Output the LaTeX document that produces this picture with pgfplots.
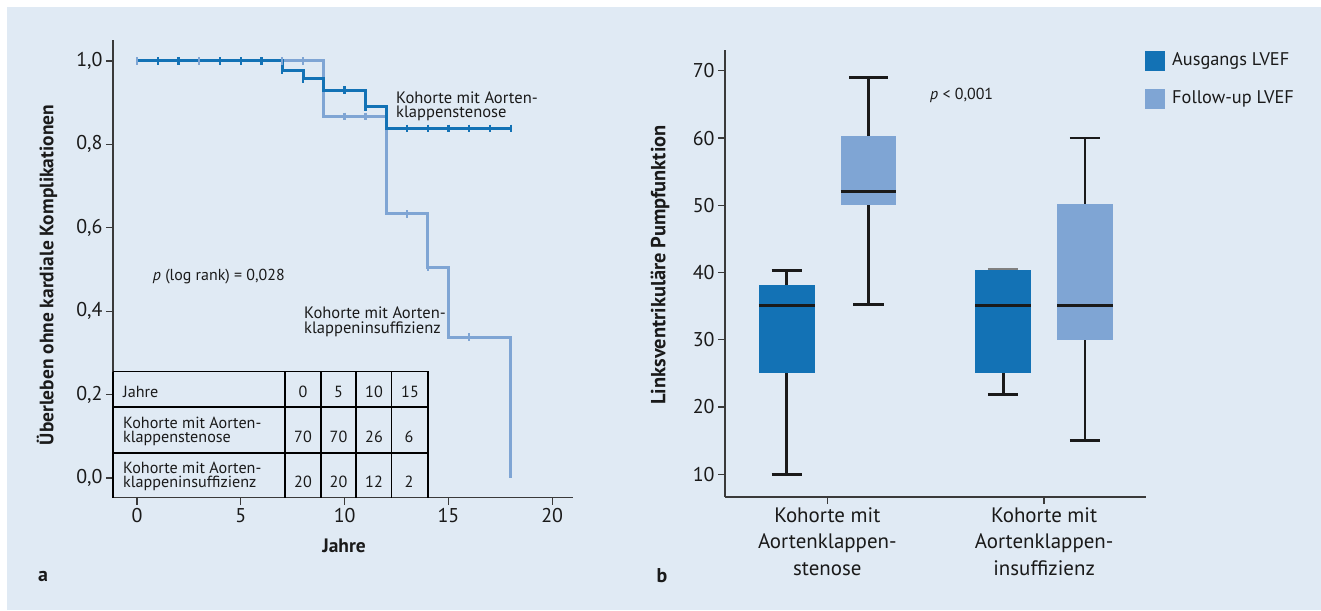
\documentclass[border=0pt]{standalone}
\usepackage{fontspec}
\setmainfont{PT Sans}
\usepackage{pgfplots}
\pgfplotsset{compat=1.18}
\definecolor{bgblue}{HTML}{E0EAF4}
\definecolor{dblue}{HTML}{1372B5}
\definecolor{lblue}{HTML}{7FA5D4}
\definecolor{axgrey}{HTML}{3A3A3A}
\definecolor{txt}{HTML}{1A1A1A}
\newcommand\fs[2]{\fontsize{#1}{#2}\selectfont}
\begin{document}
\begin{tikzpicture}
\path[use as bounding box] (0,0) rectangle (1321bp,611bp);
\fill[white] (0,0) rectangle (1321bp,611bp);
\fill[bgblue] (7bp,1bp) rectangle (1321bp,604bp);

% ---------------- left: Kaplan-Meier ----------------
\begin{axis}[
  at={(113bp,113.3bp)}, anchor=south west, scale only axis,
  width=460bp, height=457.7bp,
  xmin=-1.157, xmax=21.0, ymin=-0.047, ymax=1.05,
  axis x line=bottom, axis y line=left,
  axis line style={-, axgrey, line width=1.4bp},
  xtick={0,5,10,15,20}, ytick={0,0.2,0.4,0.6,0.8,1.0},
  tick align=outside, major tick length=7bp,
  tick style={axgrey, line width=1.3bp},
  /pgf/number format/assume math mode=true,
  ticklabel style={font=\fs{20}{24}, text=txt},
  yticklabel style={/pgf/number format/.cd, fixed, fixed zerofill, precision=1, use comma},
  xticklabel style={/pgf/number format/.cd, fixed, precision=0},
  clip=false,
]
% Insuffizienz (light)
\addplot[const plot mark left, lblue, line width=3bp] coordinates {
  (0,1) (9,0.867) (12,0.633) (14,0.505) (15,0.338) (18,0)};
% Stenose (dark)
\addplot[const plot mark left, dblue, line width=3bp] coordinates {
  (0,1) (7,0.977) (8,0.957) (9,0.930) (11,0.890) (12,0.838) (18,0.838)};
% censor marks stenose
\addplot[only marks, mark=|, mark size=3.8bp, dblue, mark options={line width=2.3bp}] coordinates {
  (1,1) (2,1) (4,1) (5,1) (6,1) (7,0.977) (8,0.957) (10,0.930) (11,0.890)
  (13,0.838) (14,0.838) (15,0.838) (16,0.838) (17,0.838) (18,0.838)};
% censor marks insuffizienz
\addplot[only marks, mark=|, mark size=3.8bp, lblue, mark options={line width=2.3bp}] coordinates {
  (0,1) (3,1) (7,1) (8,1) (10,0.867) (11,0.867) (13,0.633) (14,0.505) (16,0.338)};
\end{axis}

% ---------------- right: boxplots ----------------
\begin{axis}[
  at={(725bp,114bp)}, anchor=south west, scale only axis,
  width=421bp, height=447bp,
  xmin=0.528, xmax=2.47, ymin=6.61, ymax=73.1,
  axis x line=bottom, axis y line=left,
  axis line style={-, axgrey, line width=1.4bp},
  xtick={1,2}, ytick={10,20,30,40,50,60,70},
  xticklabels={{Kohorte mit\\Aortenklappen-\\stenose},{Kohorte mit\\Aortenklappen-\\insuffizienz}},
  tick align=outside, major tick length=7bp,
  tick style={axgrey, line width=1.3bp},
  /pgf/number format/assume math mode=true,
  ticklabel style={font=\fs{20}{26}, text=txt},
  xticklabel style={align=center, font=\fs{21}{26.5}},
  clip=false,
  box/.style={fill=#1, draw=none},
  med/.style={draw=txt, line width=3bp},
  wh/.style={draw=txt, line width=2.8bp},
]
% --- Kohorte Stenose, Ausgangs LVEF (pos 0.813)
\addplot[wh] coordinates {(0.813,25) (0.813,10)};
\addplot[wh] coordinates {(0.743,10) (0.883,10)};
\addplot[wh] coordinates {(0.813,38.15) (0.813,40.3)};
\addplot[wh] coordinates {(0.743,40.3) (0.883,40.3)};
\addplot[box=dblue] coordinates {(0.684,25) (0.942,25) (0.942,38.15) (0.684,38.15)} -- cycle;
\addplot[med] coordinates {(0.684,35.1) (0.942,35.1)};
% --- Kohorte Stenose, Follow-up LVEF (pos 1.19)
\addplot[wh] coordinates {(1.19,50) (1.19,35.2)};
\addplot[wh] coordinates {(1.12,35.2) (1.26,35.2)};
\addplot[wh] coordinates {(1.19,60.3) (1.19,69)};
\addplot[wh] coordinates {(1.10,69) (1.28,69)};
\addplot[box=lblue] coordinates {(1.061,50) (1.319,50) (1.319,60.3) (1.061,60.3)} -- cycle;
\addplot[med] coordinates {(1.061,52.1) (1.319,52.1)};
% --- Kohorte Insuffizienz, Ausgangs LVEF (pos 1.811)
\addplot[wh] coordinates {(1.811,25) (1.811,21.9)};
\addplot[wh] coordinates {(1.741,21.9) (1.881,21.9)};
\addplot[draw=gray, line width=1.6bp] coordinates {(1.741,40.55) (1.881,40.55)};
\addplot[box=dblue] coordinates {(1.682,25) (1.940,25) (1.940,40.4) (1.682,40.4)} -- cycle;
\addplot[med] coordinates {(1.682,35.1) (1.940,35.1)};
% --- Kohorte Insuffizienz, Follow-up LVEF (pos 2.189)
\addplot[wh] coordinates {(2.189,30) (2.189,15)};
\addplot[wh] coordinates {(2.119,15) (2.259,15)};
\addplot[wh] coordinates {(2.189,50.2) (2.189,60)};
\addplot[wh] coordinates {(2.119,60) (2.259,60)};
\addplot[box=lblue] coordinates {(2.060,30) (2.318,30) (2.318,50.2) (2.060,50.2)} -- cycle;
\addplot[med] coordinates {(2.060,35.1) (2.318,35.1)};
\end{axis}

% ---------------- annotations (px coordinates, y downward) ----------------
\begin{scope}[x=1bp, y=-1bp, shift={(0bp,611bp)}, every node/.style={inner sep=0pt, text=txt}]
% KM labels
\node[anchor=base west, font=\fs{16.6}{16}] at (396,103.3) {Kohorte mit Aorten-};
\node[anchor=base west, font=\fs{16.6}{16}] at (396,117.6) {klappenstenose};
\node[anchor=base west, font=\fs{16}{16}] at (152.7,280.7) {\textit{p} (log rank) = 0,028};
\node[anchor=base west, font=\fs{16.6}{16}] at (304,319) {Kohorte mit Aorten-};
\node[anchor=base west, font=\fs{16.6}{16}] at (304,333.3) {klappeninsuffizienz};
% table
\draw[black, line width=1.3bp] (113,371.7) -- (428,371.7) -- (428,497.7);
\draw[black, line width=1.3bp] (113,407) -- (428,407);
\draw[black, line width=1.3bp] (113,453) -- (428,453);
\foreach \xx in {285,321,356,391.7} \draw[black, line width=1.3bp] (\xx,371.7) -- (\xx,497.7);
\draw[black, line width=1.3bp] (113,371.7) -- (113,497.7);
\begin{scope}[every node/.append style={font=\fs{16.2}{16}}]
\node[anchor=base west] at (123,397.7) {Jahre};
\node[anchor=base west] at (123,428.3) {Kohorte mit Aorten-};
\node[anchor=base west] at (123,442.7) {klappenstenose};
\node[anchor=base west] at (123,473.3) {Kohorte mit Aorten-};
\node[anchor=base west] at (123,487.7) {klappeninsuffizienz};
\node[anchor=base] at (303,397.7) {0};
\node[anchor=base] at (338.5,397.7) {5};
\node[anchor=base] at (374,397.7) {10};
\node[anchor=base] at (410,397.7) {15};
\node[anchor=base] at (303,442.7) {70};
\node[anchor=base] at (338.5,442.7) {70};
\node[anchor=base] at (374,442.7) {26};
\node[anchor=base] at (409,442.7) {6};
\node[anchor=base] at (303,488) {20};
\node[anchor=base] at (338.5,488) {20};
\node[anchor=base] at (374,488) {12};
\node[anchor=base] at (409,488) {2};
\end{scope}
% axis labels
\node[rotate=90, font=\bfseries\fs{19.5}{20}] at (47,275) {Überleben ohne kardiale Komplikationen};
\node[font=\bfseries\fs{19.5}{20}] at (344,546) {Jahre};
\node[font=\bfseries\fs{20}{20}] at (43,577) {a};
\node[rotate=90, font=\bfseries\fs{20.5}{20}] at (660,265) {Linksventrikuläre Pumpfunktion};
\node[font=\bfseries\fs{20}{20}] at (662,576) {b};
\node[anchor=west, font=\fs{16}{16}] at (930,95) {\textit{p} < 0,001};
% legend
\fill[dblue] (1145,51) rectangle (1165,71);
\node[anchor=base west, font=\fs{18.4}{18}] at (1172,66) {Ausgangs LVEF};
\fill[lblue] (1145,89) rectangle (1165,109);
\node[anchor=base west, font=\fs{18.4}{18}] at (1172,104) {Follow-up LVEF};
\end{scope}
\end{tikzpicture}
\end{document}
